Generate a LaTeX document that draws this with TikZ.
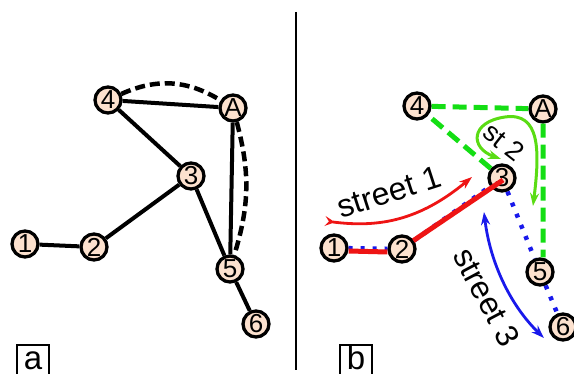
\documentclass[tikz,border=0pt]{standalone}
\usepackage{fontspec}
\setmainfont{Liberation Sans}
\usetikzlibrary{arrows.meta}
\definecolor{peach}{RGB}{252,225,206}
\definecolor{stgreen}{RGB}{20,222,20}
\definecolor{lime}{RGB}{90,220,20}
\definecolor{stred}{RGB}{238,20,20}
\definecolor{stblue}{RGB}{25,25,235}

\begin{document}
\begin{tikzpicture}[x=1pt,y=-1pt,
  vertex/.style={circle,draw,line width=3.3pt,fill=peach,inner sep=0pt,minimum size=26pt,font=\fontsize{26}{26}\selectfont},
  road/.style={line width=4pt},
  alt/.style={line width=4.5pt,dash pattern=on 10pt off 5pt},
  tag/.style={draw,line width=2pt,inner xsep=7pt,inner ysep=1pt,text height=24pt,text depth=10pt,font=\fontsize{33}{33}\selectfont,anchor=north},
  streetlabel/.style={font=\fontsize{32}{32}\selectfont}]

  \useasboundingbox (0,0) rectangle (574,374);

  % panel a
  \node[vertex] (a1) at (25,244) {1};
  \node[vertex] (a2) at (94,247) {2};
  \node[vertex] (a3) at (191,176) {3};
  \node[vertex] (a4) at (108,100) {4};
  \node[vertex] (aA) at (233,108) {A};
  \node[vertex] (a5) at (230,269) {5};
  \node[vertex] (a6) at (256,324) {6};
  \node[tag] (la) at (33,344) {a};

  \draw[road] (a1) -- (a2) (a2) -- (a3) (a3) -- (a4) (a4) -- (aA)
   (aA) -- (a5) (a3) -- (a5) (a5) -- (a6);
  \draw[alt] (a4) to[bend left=28] (aA);
  \draw[alt] (aA) to[bend left=16] (a5);

  % divider
  \coordinate (top) at (296,12);
  \coordinate (bot) at (296,370);
  \draw[line width=1.8pt] (top) -- (bot);

  % panel b
  \node[vertex] (b1) at (334,248) {1};
  \node[vertex] (b2) at (402,249) {2};
  \node[vertex] (b3) at (502,178) {3};
  \node[vertex] (b4) at (417,106) {4};
  \node[vertex] (bA) at (543,109) {A};
  \node[vertex] (b5) at (540,272) {5};
  \node[vertex] (b6) at (563,327) {6};
  \node[tag] (lb) at (356,344) {b};

  \draw[stblue,line width=4.5pt,dash pattern=on 4pt off 8pt] (b1) -- (b2) -- (b3) -- (b5) -- (b6);
  \draw[stred,line width=5pt] ([yshift=-3pt]b1.east) -- ([yshift=-3pt]b2.west);
  \draw[stred,line width=5pt] ([xshift=1pt,yshift=-2pt]b2.north east) -- ([xshift=1pt,yshift=-2pt]b3.center);
  \draw[stgreen,line width=5pt,dash pattern=on 14pt off 7pt] (b3) -- (b4) -- (bA) -- (bA |- b5.north);

  \draw[stred,line width=2.8pt,{Stealth[reversed,length=10pt,width=10pt,inset=4pt]}-{Stealth[length=13pt,width=9pt]}]
   (325,221) .. controls (380,228) and (420,220) .. (472,177);
  \draw[lime,line width=3pt,{Stealth[length=13pt,width=9pt]}-{Stealth[length=13pt,width=9pt]}]
   (533,206) .. controls (540,150) and (540,112) .. (505,117) .. controls (470,122) and (470,148) .. (501,159);
  \draw[stblue,line width=2.8pt,{Stealth[length=13pt,width=9pt]}-{Stealth[length=13pt,width=9pt]}]
   (484,212) .. controls (490,262) and (510,305) .. (544,338);

  \node[streetlabel,rotate=18] (s1) at (389,192) {street 1};
  \node[streetlabel,rotate=-38,font=\fontsize{27}{27}\selectfont] (s2) at (504,142) {st 2};
  \node[streetlabel,rotate=-62] (s3) at (487,297) {street 3};

\end{tikzpicture}
\end{document}
